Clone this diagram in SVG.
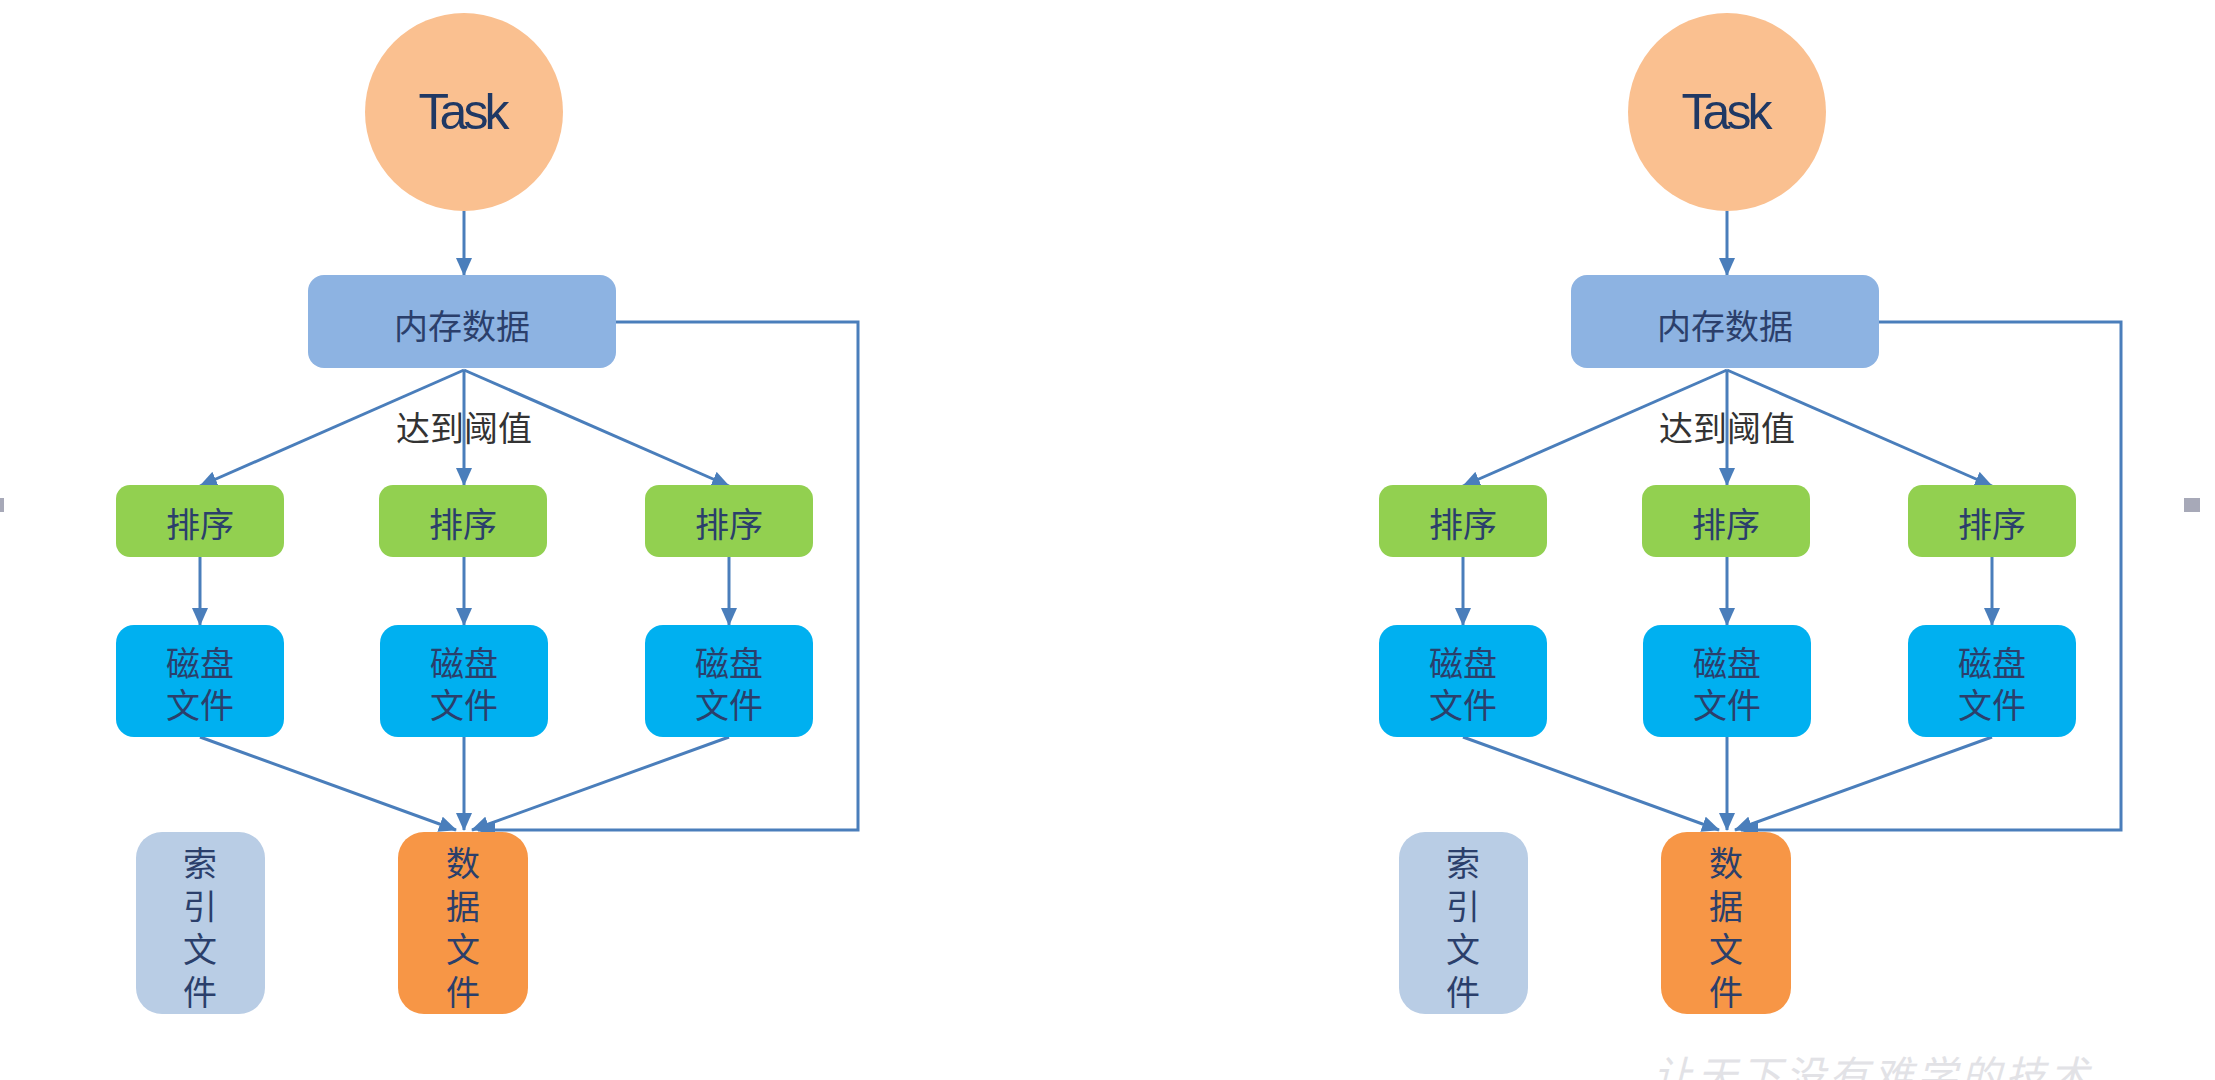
<svg xmlns="http://www.w3.org/2000/svg" width="2215" height="1080" viewBox="0 0 2215 1080">
<defs>
<marker id="ah" markerUnits="userSpaceOnUse" markerWidth="18" markerHeight="16" refX="17" refY="8" orient="auto">
<path d="M0,0 L18,8 L0,16 z" fill="#4A7EBB"/>
</marker>
<style>
.conn{fill:none;stroke:#4A7EBB;stroke-width:3;marker-end:url(#ah)}
.loop{fill:none;stroke:#4A7EBB;stroke-width:3;marker-end:url(#ah)}
.lbl{font-family:"Noto Sans CJK SC","Noto Sans",sans-serif;font-size:34px;fill:#2B3F6B;text-anchor:middle;dominant-baseline:central}
.task{font-family:"Liberation Sans",Arial,sans-serif;font-size:50px;fill:#1F3864;text-anchor:middle;letter-spacing:-4px}
.thr{font-family:"Noto Sans CJK SC","Noto Sans",sans-serif;font-size:34px;fill:#333333;text-anchor:middle;dominant-baseline:central}
.circ{fill:#FAC090}
.mem{fill:#8DB3E2}
.sort{fill:#92D050}
.disk{fill:#00B0F0}
.data{fill:#F79646}
.idx{fill:#B9CDE5}
.wm{font-family:"Noto Sans CJK SC",sans-serif;font-size:40px;fill:#E2E2E6;letter-spacing:4px;font-style:italic}
</style>
</defs>
<rect width="2215" height="1080" fill="#FFFFFF"/>
<rect x="0" y="498" width="4" height="14" fill="#A7A9B8"/>
<rect x="2184" y="498" width="16" height="14" fill="#A7A9B8"/>

<g id="diagram-left">
<g id="L-connectors">
<path class="conn" d="M464,211 L464,275"/>
<path class="conn" d="M464,370 L200,486"/>
<path class="conn" d="M464,370 L464,485"/>
<path class="conn" d="M464,370 L729,486"/>
<path class="conn" d="M200,557 L200,625"/>
<path class="conn" d="M464,557 L464,625"/>
<path class="conn" d="M729,557 L729,625"/>
<path class="conn" d="M200,737 L456,830"/>
<path class="conn" d="M464,737 L464,830"/>
<path class="conn" d="M729,737 L472,830"/>
<path class="loop" d="M616,322 L858,322 L858,830 L478,830"/>
</g>
<g id="L-task"><circle class="circ" cx="464" cy="112" r="99"/><text class="task" x="462" y="129">Task</text></g>
<g id="L-mem"><rect class="mem" x="308" y="275" width="308" height="93" rx="16"/><text class="lbl" x="462" y="324">内存数据</text></g>
<text class="thr" x="464" y="426">达到阈值</text>
<g id="L-sort1"><rect class="sort" x="116" y="485" width="168" height="72" rx="14"/><text class="lbl" x="200" y="522">排序</text></g>
<g id="L-sort2"><rect class="sort" x="379" y="485" width="168" height="72" rx="14"/><text class="lbl" x="463" y="522">排序</text></g>
<g id="L-sort3"><rect class="sort" x="645" y="485" width="168" height="72" rx="14"/><text class="lbl" x="729" y="522">排序</text></g>
<g id="L-disk1"><rect class="disk" x="116" y="625" width="168" height="112" rx="18"/><text class="lbl" x="200" y="661">磁盘</text><text class="lbl" x="200" y="703">文件</text></g>
<g id="L-disk2"><rect class="disk" x="380" y="625" width="168" height="112" rx="18"/><text class="lbl" x="464" y="661">磁盘</text><text class="lbl" x="464" y="703">文件</text></g>
<g id="L-disk3"><rect class="disk" x="645" y="625" width="168" height="112" rx="18"/><text class="lbl" x="729" y="661">磁盘</text><text class="lbl" x="729" y="703">文件</text></g>
<g id="L-index"><rect class="idx" x="136" y="832" width="129" height="182" rx="26"/><text class="lbl" x="200" y="861">索</text><text class="lbl" x="200" y="904">引</text><text class="lbl" x="200" y="947">文</text><text class="lbl" x="200" y="990">件</text></g>
<g id="L-data"><rect class="data" x="398" y="832" width="130" height="182" rx="26"/><text class="lbl" x="463" y="861">数</text><text class="lbl" x="463" y="904">据</text><text class="lbl" x="463" y="947">文</text><text class="lbl" x="463" y="990">件</text></g>
</g>

<g id="diagram-right" transform="translate(1263,0)">
<g id="R-connectors">
<path class="conn" d="M464,211 L464,275"/>
<path class="conn" d="M464,370 L200,486"/>
<path class="conn" d="M464,370 L464,485"/>
<path class="conn" d="M464,370 L729,486"/>
<path class="conn" d="M200,557 L200,625"/>
<path class="conn" d="M464,557 L464,625"/>
<path class="conn" d="M729,557 L729,625"/>
<path class="conn" d="M200,737 L456,830"/>
<path class="conn" d="M464,737 L464,830"/>
<path class="conn" d="M729,737 L472,830"/>
<path class="loop" d="M616,322 L858,322 L858,830 L478,830"/>
</g>
<g id="R-task"><circle class="circ" cx="464" cy="112" r="99"/><text class="task" x="462" y="129">Task</text></g>
<g id="R-mem"><rect class="mem" x="308" y="275" width="308" height="93" rx="16"/><text class="lbl" x="462" y="324">内存数据</text></g>
<text class="thr" x="464" y="426">达到阈值</text>
<g id="R-sort1"><rect class="sort" x="116" y="485" width="168" height="72" rx="14"/><text class="lbl" x="200" y="522">排序</text></g>
<g id="R-sort2"><rect class="sort" x="379" y="485" width="168" height="72" rx="14"/><text class="lbl" x="463" y="522">排序</text></g>
<g id="R-sort3"><rect class="sort" x="645" y="485" width="168" height="72" rx="14"/><text class="lbl" x="729" y="522">排序</text></g>
<g id="R-disk1"><rect class="disk" x="116" y="625" width="168" height="112" rx="18"/><text class="lbl" x="200" y="661">磁盘</text><text class="lbl" x="200" y="703">文件</text></g>
<g id="R-disk2"><rect class="disk" x="380" y="625" width="168" height="112" rx="18"/><text class="lbl" x="464" y="661">磁盘</text><text class="lbl" x="464" y="703">文件</text></g>
<g id="R-disk3"><rect class="disk" x="645" y="625" width="168" height="112" rx="18"/><text class="lbl" x="729" y="661">磁盘</text><text class="lbl" x="729" y="703">文件</text></g>
<g id="R-index"><rect class="idx" x="136" y="832" width="129" height="182" rx="26"/><text class="lbl" x="200" y="861">索</text><text class="lbl" x="200" y="904">引</text><text class="lbl" x="200" y="947">文</text><text class="lbl" x="200" y="990">件</text></g>
<g id="R-data"><rect class="data" x="398" y="832" width="130" height="182" rx="26"/><text class="lbl" x="463" y="861">数</text><text class="lbl" x="463" y="904">据</text><text class="lbl" x="463" y="947">文</text><text class="lbl" x="463" y="990">件</text></g>
</g>

<text class="wm" x="1653" y="1090">让天下没有难学的技术</text>
</svg>
